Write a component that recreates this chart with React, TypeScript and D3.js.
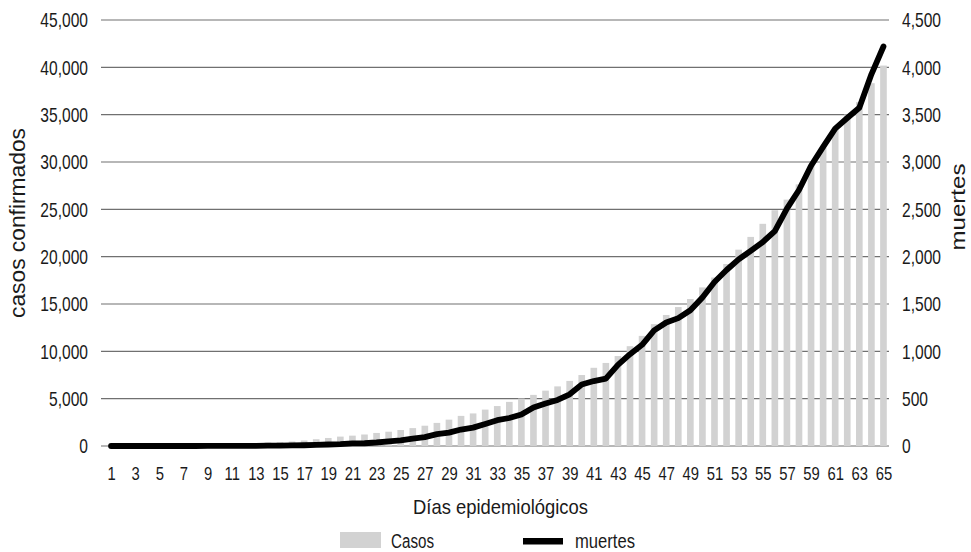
import React from "react";
import * as d3 from "d3";

const days: number[] = Array.from({ length: 65 }, (_, i) => i + 1);

const casos: number[] = [
  7, 12, 15, 26, 41, 53, 82, 93, 118, 164,
  203, 251, 316, 367, 405, 475, 585, 717, 848, 993,
  1094, 1215, 1378, 1510, 1688, 1890, 2143, 2439, 2785, 3181,
  3441, 3844, 4219, 4661, 5014, 5399, 5847, 6297, 6875, 7497,
  8261, 8772, 9501, 10544, 11633, 12872, 13842, 14677, 15529, 16752,
  17799, 19224, 20739, 22088, 23471, 24905, 26025, 27634, 29616, 31522,
  33460, 35022, 36327, 38324, 40186,
];

const muertes: number[] = [
  0, 0, 0, 0, 0, 0, 0, 0, 1, 1,
  2, 2, 2, 4, 5, 6, 8, 12, 16, 20,
  28, 29, 37, 50, 60, 79, 94, 125, 141, 174,
  194, 233, 273, 296, 332, 406, 449, 486, 546, 650,
  686, 712, 857, 970, 1069, 1221, 1305, 1351, 1434, 1569,
  1732, 1859, 1972, 2061, 2154, 2271, 2507, 2704, 2961, 3160,
  3353, 3465, 3573, 3926, 4220,
];

const leftTicks: number[] = [0, 5000, 10000, 15000, 20000, 25000, 30000, 35000, 40000, 45000];
const rightTicks: number[] = [0, 500, 1000, 1500, 2000, 2500, 3000, 3500, 4000, 4500];
const xTickDays: number[] = days.filter((d) => d % 2 === 1);

const W = 971;
const H = 552;
const FONT = "'Liberation Sans', Arimo, 'DejaVu Sans', sans-serif";
const SX = 0.78;
const INK = "#1a1a1a";

function NarrowText(props: {
  x: number;
  y: number;
  anchor: "start" | "middle" | "end";
  size: number;
  dy?: string;
  children: React.ReactNode;
}) {
  return (
    <text
      transform={`translate(${props.x},${props.y}) scale(${SX},1)`}
      textAnchor={props.anchor}
      dy={props.dy}
      fontFamily={FONT}
      fontSize={props.size}
      fill={INK}
    >
      {props.children}
    </text>
  );
}

export default function App() {
  const x = d3.scaleBand<number>().domain(days).range([105, 889.5]).paddingInner(0.45).paddingOuter(0.225);
  const yL = d3.scaleLinear().domain([0, 45000]).range([446, 20]);
  const yR = d3.scaleLinear().domain([0, 4500]).range([446, 20]);
  const fmt = d3.format(",");
  const cx = (d: number) => (x(d) as number) + x.bandwidth() / 2;

  const linePath = d3
    .line<number>()
    .x((_, i) => cx(days[i]))
    .y((v) => yR(v))(muertes) as string;

  return (
    <svg
      width={W}
      height={H}
      style={{ position: "absolute", left: 0, top: 0, background: "#fff" }}
      xmlns="http://www.w3.org/2000/svg"
    >
      <rect x={0} y={0} width={W} height={H} fill="#fff" />
      {leftTicks.map((t) => (
        <line key={"g" + t} x1={101} x2={889} y1={yL(t)} y2={yL(t)} stroke="#707070" strokeWidth={1.1} />
      ))}
      {days.map((d, i) => (
        <rect
          key={"b" + d}
          x={x(d) as number}
          y={yL(casos[i])}
          width={x.bandwidth()}
          height={yL(0) - yL(casos[i])}
          fill="#d2d2d2"
        />
      ))}
      <path d={linePath} fill="none" stroke="#000" strokeWidth={5.8} strokeLinejoin="round" strokeLinecap="round" />
      {leftTicks.map((t) => (
        <NarrowText key={"l" + t} x={88} y={yL(t)} dy="0.36em" anchor="end" size={20}>
          {fmt(t)}
        </NarrowText>
      ))}
      {rightTicks.map((t) => (
        <NarrowText key={"r" + t} x={902} y={yR(t)} dy="0.36em" anchor="start" size={20}>
          {fmt(t)}
        </NarrowText>
      ))}
      {xTickDays.map((d) => (
        <NarrowText key={"x" + d} x={cx(d) + 0.5} y={480} anchor="middle" size={19}>
          {d}
        </NarrowText>
      ))}
      <text
        transform="translate(25,223) rotate(-90)"
        textAnchor="middle"
        fontFamily={FONT}
        fontSize={22}
        textLength={190}
        lengthAdjust="spacingAndGlyphs"
        fill={INK}
      >
        casos confirmados
      </text>
      <text
        transform="translate(965,207) rotate(-90)"
        textAnchor="middle"
        fontFamily={FONT}
        fontSize={21}
        textLength={87}
        lengthAdjust="spacingAndGlyphs"
        fill={INK}
      >
        muertes
      </text>
      <text
        x={500.5}
        y={514}
        textAnchor="middle"
        fontFamily={FONT}
        fontSize={21}
        textLength={175}
        lengthAdjust="spacingAndGlyphs"
        fill={INK}
      >
        Días epidemiológicos
      </text>
      <rect x={340} y={532} width={41} height={16} fill="#d2d2d2" />
      <text x={391} y={548} fontFamily={FONT} fontSize={20} textLength={43} lengthAdjust="spacingAndGlyphs" fill={INK}>
        Casos
      </text>
      <rect x={523} y={538} width={40} height={6.5} fill="#000" />
      <text x={575} y={548} fontFamily={FONT} fontSize={20} textLength={60} lengthAdjust="spacingAndGlyphs" fill={INK}>
        muertes
      </text>
    </svg>
  );
}
